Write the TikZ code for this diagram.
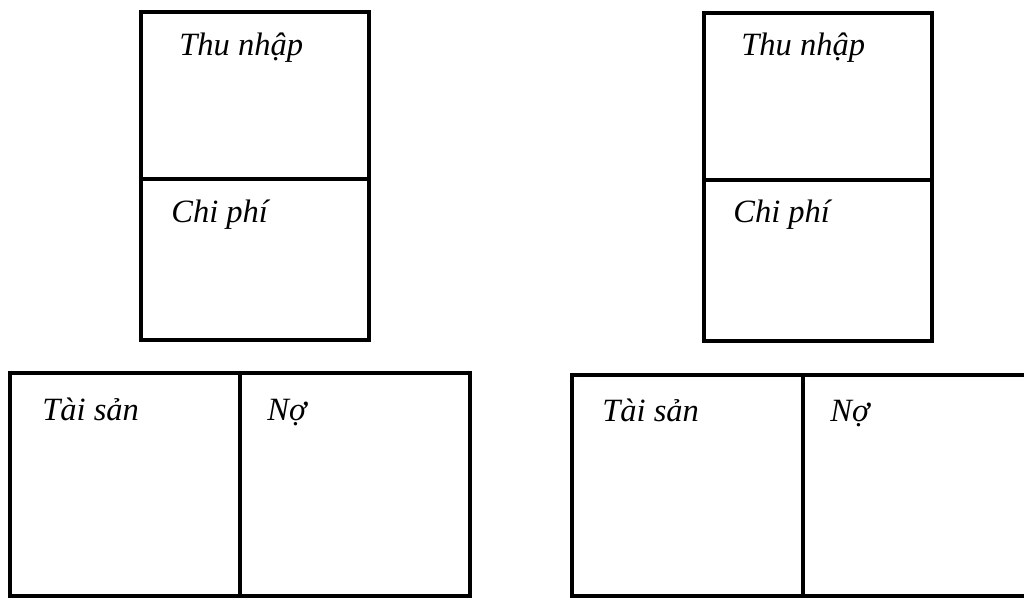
\documentclass[tikz,border=0pt]{standalone}
\usepackage{fontspec}
\setmainfont{Liberation Serif}
\usepackage{tikz}
\usetikzlibrary{positioning}

\tikzset{
  frame/.style={draw=black, line width=2.2pt},
  label/.style={anchor=base west, inner sep=0pt, font=\fontsize{18.5}{20}\selectfont\itshape}
}

\begin{document}
\begin{tikzpicture}[x=0.02cm, y=-0.02cm]
\useasboundingbox (0,0) rectangle (1024,599);
\clip (0,0) rectangle (1024,599);
% Left (income / expense)
\draw[frame] (141,12) rectangle (369,340);
\draw[frame] (141,179) -- (369,179);
% Right (income / expense)
\draw[frame] (704,13) rectangle (932,341);
\draw[frame] (704,180) -- (932,180);
% Left (assets / liabilities)
\draw[frame] (10,373) rectangle (470,596);
\draw[frame] (240,373) -- (240,596);
% Right (assets / liabilities)
\draw[frame] (572,375) rectangle (1034,596);
\draw[frame] (803,375) -- (803,596);

\node[label] (thuL) at (179,55) {Thu nhập};
\node[label] (chiL) at (171,222) {Chi phí};
\node[label] (thuR) at (741,55) {Thu nhập};
\node[label] (chiR) at (733,222) {Chi phí};
\node[label] (taiL) at (42,420) {Tài sản};
\node[label] (noL) at (267,420) {Nợ};
\node[label] (taiR) at (602,421) {Tài sản};
\node[label] (noR) at (830,421) {Nợ};
\end{tikzpicture}
\end{document}
